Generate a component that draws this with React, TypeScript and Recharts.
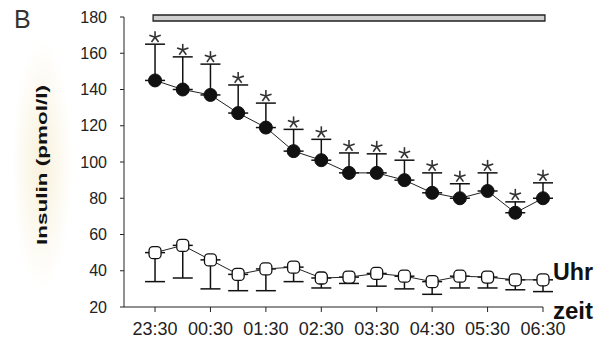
import React from "react";
import {
  ComposedChart,
  Line,
  XAxis,
  YAxis,
  ErrorBar,
  ReferenceArea,
  LabelList,
} from "recharts";

const slots = [0, 1, 2, 3, 4, 5, 6, 7, 8, 9, 10, 11, 12, 13, 14];
const tickSlots = [0, 2, 4, 6, 8, 10, 12, 14];
const tickLabels = ["23:30", "00:30", "01:30", "02:30", "03:30", "04:30", "05:30", "06:30"];
const yTicks = [20, 40, 60, 80, 100, 120, 140, 160, 180];

const filledMean = [145, 140, 137, 127, 119, 106, 101, 94, 94, 90, 83, 80, 84, 72, 80];
const filledSD = [20, 18, 17, 15.5, 13.5, 12, 11.5, 11, 10.5, 11, 11, 8, 10, 6, 8.5];
const openMean = [50, 54, 46, 38, 41, 42, 36, 36.5, 38.5, 37, 34, 37, 36.5, 35, 35];
const openSD = [16, 18, 16, 9, 12, 8, 5.5, 3.5, 7, 7, 7, 6.5, 6, 5.5, 6.5];

const data = slots.map((s, i) => ({
  x: s,
  filled: filledMean[i],
  filledErr: [0, filledSD[i]],
  star: filledMean[i] + filledSD[i],
  open: openMean[i],
  openErr: [openSD[i], 0],
}));

const FilledDot = (p: any) => (
  <circle key={`f${p.index}`} cx={p.cx} cy={p.cy} r={6.5} fill="#111" stroke="#111" />
);
const OpenDot = (p: any) => (
  <rect
    key={`o${p.index}`}
    x={p.cx - 6}
    y={p.cy - 6}
    width={12}
    height={12}
    rx={4}
    fill="#fff"
    stroke="#111"
    strokeWidth={1.3}
  />
);

const Star = (p: any) => {
  const cx = p.x;
  const cy = p.y - 7;
  const r = 6;
  const arms = [0, 1, 2, 3, 4].map((k) => {
    const a = -Math.PI / 2 + (k * 2 * Math.PI) / 5;
    return (
      <line
        key={k}
        x1={cx}
        y1={cy}
        x2={cx + r * Math.cos(a)}
        y2={cy + r * Math.sin(a)}
        stroke="#333"
        strokeWidth={1.6}
      />
    );
  });
  return <g>{arms}</g>;
};

export default function App() {
  return (
    <div style={{ position: "absolute", left: 0, top: 0, width: 603, height: 344, background: "#fff" }}>
      <svg width={603} height={344} style={{ position: "absolute", left: 0, top: 0 }}>
        <defs>
          <radialGradient id="cream" cx="50%" cy="50%" r="50%">
            <stop offset="0%" stopColor="#f8f1da" />
            <stop offset="100%" stopColor="#ffffff" />
          </radialGradient>
        </defs>
        <ellipse cx={42} cy={165} rx={30} ry={125} fill="url(#cream)" />
      </svg>
      <div style={{ position: "absolute", left: 0, top: 0 }}>
        <ComposedChart
          width={603}
          height={344}
          data={data}
          margin={{ top: 17, right: 60, left: 0, bottom: 0 }}
        >
          <XAxis
            dataKey="x"
            type="number"
            domain={[-1.12, 14]}
            ticks={tickSlots}
            tickFormatter={(v: number) => tickLabels[tickSlots.indexOf(v)] ?? ""}
            height={37}
            tickSize={5}
            tickMargin={10}
            stroke="#222"
            tick={{ fill: "#222", fontSize: 18, fontFamily: "Liberation Sans, Arial, sans-serif" }}
            interval={0}
          />
          <YAxis
            type="number"
            domain={[20, 180]}
            ticks={yTicks}
            width={124}
            tickSize={4}
            tickMargin={13}
            stroke="#222"
            tick={{ fill: "#222", fontSize: 16, fontFamily: "Liberation Sans, Arial, sans-serif" }}
            interval={0}
          />
          <ReferenceArea
            x1={-0.07}
            x2={14.07}
            y1={177.8}
            y2={181.1}
            fill="#cfcfcf"
            fillOpacity={1}
            stroke="#222"
            strokeWidth={1.3}
            ifOverflow="visible"
          />
          <Line dataKey="open" stroke="none" dot={false} activeDot={false} isAnimationActive={false}>
            <ErrorBar dataKey="openErr" width={10} stroke="#111" strokeWidth={1.5} />
          </Line>
          <Line dataKey="filled" stroke="none" dot={false} activeDot={false} isAnimationActive={false}>
            <ErrorBar dataKey="filledErr" width={10} stroke="#111" strokeWidth={1.5} />
          </Line>
          <Line
            dataKey="open"
            stroke="#222"
            strokeWidth={1}
            dot={OpenDot}
            activeDot={false}
            isAnimationActive={false}
          />
          <Line
            dataKey="filled"
            stroke="#222"
            strokeWidth={1}
            dot={FilledDot}
            activeDot={false}
            isAnimationActive={false}
          />
          <Line dataKey="star" stroke="none" dot={false} activeDot={false} isAnimationActive={false}>
            <LabelList dataKey="star" content={Star} />
          </Line>
        </ComposedChart>
      </div>
      <svg
        width={603}
        height={344}
        style={{ position: "absolute", left: 0, top: 0, pointerEvents: "none" }}
      >
        <text x={14} y={28} fontSize={25} fill="#333" fontFamily="Liberation Sans, Arial, sans-serif">
          B
        </text>
        <text
          x={47}
          y={165}
          transform="rotate(-90 47 165)"
          textAnchor="middle"
          fontSize={15}
          fontWeight="bold"
          fill="#111"
          textLength={160}
          lengthAdjust="spacingAndGlyphs"
          fontFamily="Liberation Sans, Arial, sans-serif"
        >
          Insulin (pmol/l)
        </text>
        <text
          x={553}
          y={280}
          fontSize={24}
          fontWeight="bold"
          fill="#111"
          textLength={40}
          lengthAdjust="spacingAndGlyphs"
          fontFamily="Liberation Sans, Arial, sans-serif"
        >
          Uhr
        </text>
        <text
          x={553}
          y={319}
          fontSize={24}
          fontWeight="bold"
          fill="#111"
          textLength={40}
          lengthAdjust="spacingAndGlyphs"
          fontFamily="Liberation Sans, Arial, sans-serif"
        >
          zeit
        </text>
      </svg>
    </div>
  );
}
